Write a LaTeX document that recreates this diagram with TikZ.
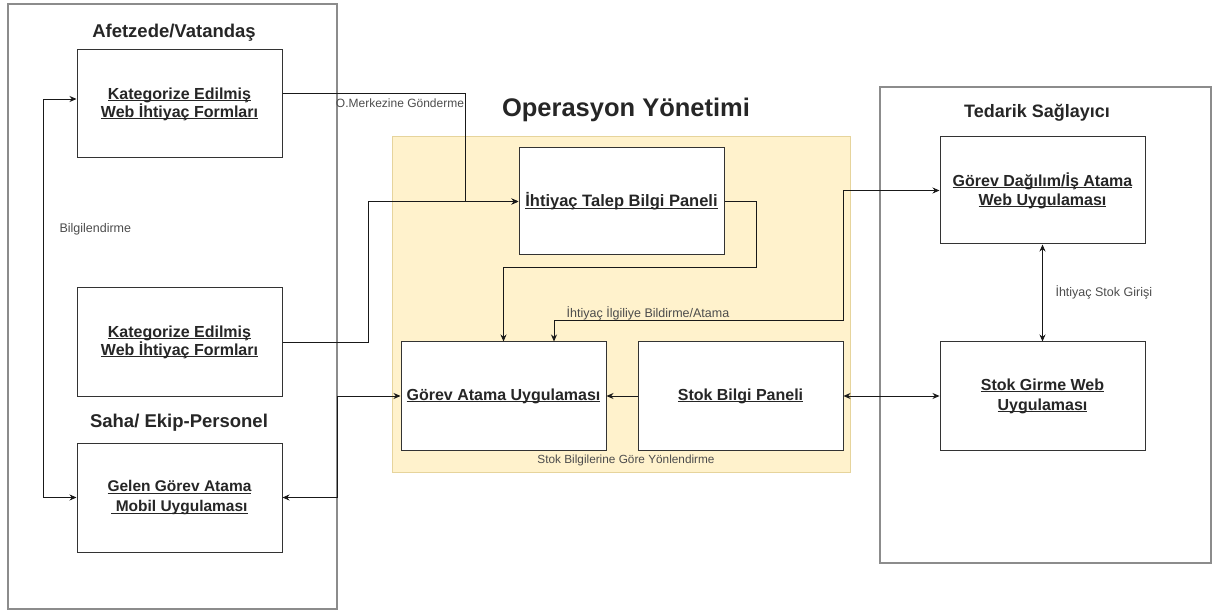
\documentclass[tikz,border=0pt]{standalone}
\usepackage{fontspec}
\setmainfont{Liberation Sans}
\usetikzlibrary{arrows.meta}

\definecolor{opfill}{HTML}{FFF2CC}
\definecolor{opline}{HTML}{E6D49C}

% underline at a fixed depth, through the descenders
\newcommand{\ulin}[1]{\setbox0\hbox{#1}\rlap{\rule[-2.2pt]{\wd0}{0.9pt}}\box0}

\tikzset{
  panel/.style={draw=black!80, fill=white, line width=1pt, minimum width=205pt,
    minimum height=108pt, inner sep=0pt, align=center, text=black!85,
    font=\bfseries\fontsize{16}{18}\selectfont},
  frame/.style={draw=black!45, line width=1.6pt},
  title/.style={text=black!85, font=\bfseries\fontsize{18.5}{22}\selectfont},
  note/.style={text=black!70, font=\fontsize{12.5}{14}\selectfont},
  tip/.tip={Stealth[length=7pt,width=6pt]},
  link/.style={draw=black!90, line width=0.9pt, -tip},
  both/.style={link, tip-tip},
}

\begin{document}
\begin{tikzpicture}[x=1pt, y=-1pt]
    \useasboundingbox (0,0) rectangle (1213,612);

    % groups
    \draw[frame] (8,4) rectangle (337,609);
    \draw[frame] (880,87) rectangle (1211,563);
    \draw[draw=opline, fill=opfill, line width=1pt] (392,137) rectangle (850,472);

    \node[title] (vatandas) at (174,33) {Afetzede/Vatandaş};
    \node[title] (saha) at (179,423) {Saha/ Ekip-Personel};
    \node[title, font=\bfseries\fontsize{18}{21}\selectfont] (tedarik) at (1037,113) {Tedarik Sağlayıcı};
    \node[title, font=\bfseries\fontsize{25.5}{30}\selectfont] (operasyon) at (626,110) {Operasyon Yönetimi};

    % panels
    \node[panel] (form1) at (179.5,104) {\ulin{Kategorize Edilmiş}\\\ulin{Web İhtiyaç Formları}};
    \node[panel] (form2) at (179.5,342) {\ulin{Kategorize Edilmiş}\\\ulin{Web İhtiyaç Formları}};
    \node[panel, minimum height=109pt, font=\bfseries\fontsize{15.5}{20}\selectfont] (gelen) at (179.5,497.5) {\ulin{Gelen Görev Atama}\\\ulin{ Mobil Uygulaması}};
    \node[panel, minimum height=107pt, font=\bfseries\fontsize{16.5}{19}\selectfont] (talep) at (621.5,201.5) {\ulin{İhtiyaç Talep Bilgi Paneli}};
    \node[panel, font=\bfseries\fontsize{16}{19}\selectfont] (atama) at (503.5,396) {\ulin{Görev Atama Uygulaması}};
    \node[panel, font=\bfseries\fontsize{16}{19}\selectfont] (stokbilgi) at (740.5,396) {\ulin{Stok Bilgi Paneli}};
    \node[panel, minimum height=107pt, font=\bfseries\fontsize{16}{19}\selectfont] (dagilim) at (1042.5,190.5) {\ulin{Görev Dağılım/İş Atama}\\\ulin{Web Uygulaması}};
    \node[panel, font=\bfseries\fontsize{16}{20}\selectfont] (girme) at (1042.5,396) {\ulin{Stok Girme Web}\\\ulin{Uygulaması}};

    % connectors
    \draw[link] ([yshift=11pt]form1.east) -| (465,201.5) -- (talep.west);
    \draw[link] (form2.east) -| (368,201.5) -- (talep.west);
    \draw[link] (talep.east) -| (756,267) -| (atama.north);
    \draw[both] ([xshift=50.5pt]atama.north) |- (843,320) |- (dagilim.west);
    \draw[link] (stokbilgi.west) -- (atama.east);
    \draw[both] (stokbilgi.east) -- (girme.west);
    \draw[both] (dagilim.south) -- (girme.north);
    \draw[both] ([yshift=5pt]form1.west) -- ++(-33,0) |- (gelen.west);
    \draw[both] (gelen.east) -- ++(55,0) |- (atama.west);

    % connector labels
    \node[note, font=\fontsize{12}{14}\selectfont] (gonderme) at (400,103) {O.Merkezine Gönderme};
    \node[note] (bildirme) at (648,313) {İhtiyaç İlgiliye Bildirme/Atama};
    \node[note, font=\fontsize{11.8}{14}\selectfont] (yonlendirme) at (626,460) {Stok Bilgilerine Göre Yönlendirme};
    \node[note, anchor=west] (stokgirisi) at (1052,292) {İhtiyaç Stok Girişi};
    \node[note, anchor=west] (bilgi) at (56,229) {Bilgilendirme};
\end{tikzpicture}
\end{document}
